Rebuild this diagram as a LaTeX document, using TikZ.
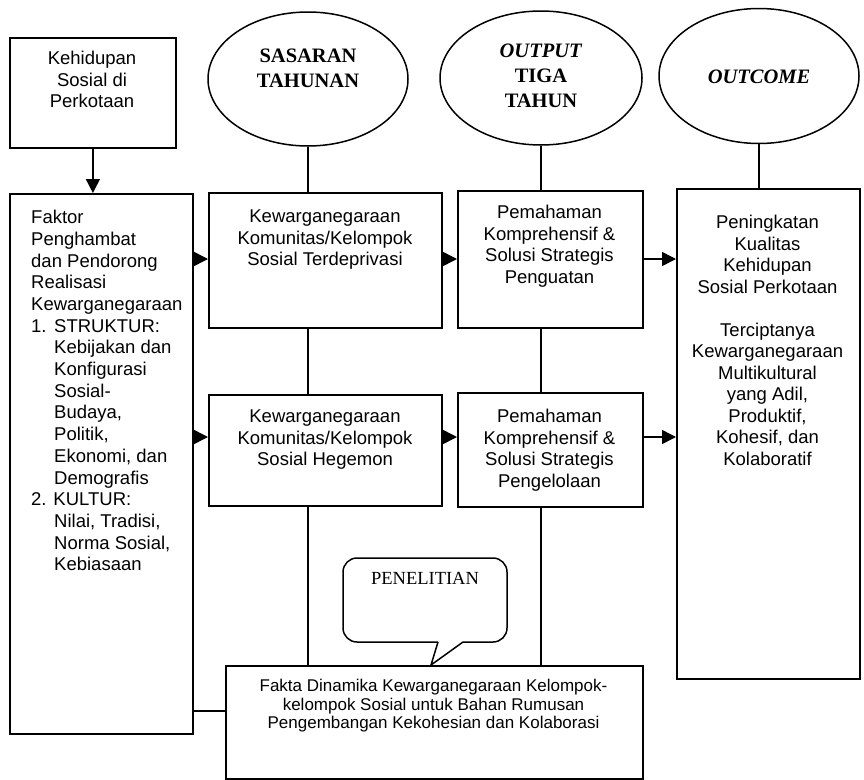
\documentclass[tikz,border=0pt]{standalone}
\usepackage{fontspec}
\setmainfont{Liberation Sans}
\newfontfamily\serifface{Liberation Serif}
\usetikzlibrary{shapes.geometric,arrows.meta}
\begin{document}
\begin{tikzpicture}[x=1pt,y=-1pt,
  box/.style={draw, line width=1.8pt, inner sep=0pt, anchor=north west},
  txt/.style={inner sep=0pt, anchor=north, align=center, font=\fontsize{18.5}{21.5}\selectfont},
  oval/.style={draw, ellipse, line width=1.5pt, inner sep=0pt},
  otxt/.style={inner sep=0pt, align=center, font=\serifface\bfseries\fontsize{20.5}{25}\selectfont},
  conn/.style={line width=1.5pt},
  arr/.style={line width=1.5pt, -{Triangle[length=14pt,width=14pt]}}]

\useasboundingbox (0,0) rectangle (864,779);
\fill[white] (0,0) rectangle (864,779);

% left column
\node[box, minimum width=166pt, minimum height=110pt] (K) at (9,37) {};
\node[txt] (Kt) at (92,51) {Kehidupan\\Sosial di\\Perkotaan};
\node[box, minimum width=183pt, minimum height=540pt] (L) at (9,193) {};
\node[txt, anchor=north west, align=left, font=\fontsize{18.5}{21.7}\selectfont] (Lt) at (31,210) {Faktor\\Penghambat\\dan Pendorong\\Realisasi\\Kewarganegaraan\\\makebox[23pt][l]{1.}STRUKTUR:\\\hspace*{23pt}Kebijakan dan\\\hspace*{23pt}Konfigurasi\\\hspace*{23pt}Sosial-\\\hspace*{23pt}Budaya,\\\hspace*{23pt}Politik,\\\hspace*{23pt}Ekonomi, dan\\\hspace*{23pt}Demografis\\2. KULTUR:\\\hspace*{23pt}Nilai, Tradisi,\\\hspace*{23pt}Norma Sosial,\\\hspace*{23pt}Kebiasaan};

% ellipses
\node[oval, minimum width=200pt, minimum height=134pt] (E1) at (308,79) {};
\node[otxt] (E1t) at (308,68.5) {SASARAN\\TAHUNAN};
\node[oval, minimum width=202pt, minimum height=134pt] (E2) at (541,78) {};
\node[otxt] (E2t) at (541,76) {\textit{OUTPUT}\\TIGA\\TAHUN};
\node[oval, minimum width=200pt, minimum height=135pt] (E3) at (759,76) {};
\node[otxt] (E3t) at (759,77) {\textit{OUTCOME}};

% middle boxes
\node[box, minimum width=233pt, minimum height=135pt] (A1) at (208,192) {};
\node[txt] (A1t) at (325,210) {Kewarganegaraan\\Komunitas/Kelompok\\Sosial Terdeprivasi};
\node[box, minimum width=185pt, minimum height=137pt] (B1) at (457,190) {};
\node[txt] (B1t) at (549.5,205) {Pemahaman\\Komprehensif \&\\Solusi Strategis\\Penguatan};
\node[box, minimum width=233pt, minimum height=111pt] (A2) at (208,394) {};
\node[txt] (A2t) at (325,410) {Kewarganegaraan\\Komunitas/Kelompok\\Sosial Hegemon};
\node[box, minimum width=185pt, minimum height=114pt] (B2) at (457,392) {};
\node[txt] (B2t) at (549.5,409) {Pemahaman\\Komprehensif \&\\Solusi Strategis\\Pengelolaan};

% right box
\node[box, minimum width=183pt, minimum height=490pt] (R) at (676,188) {};
\node[txt] (Rt) at (767.5,215) {Peningkatan\\Kualitas\\Kehidupan\\Sosial Perkotaan\\[21.5pt]Terciptanya\\Kewarganegaraan\\Multikultural\\yang Adil,\\Produktif,\\Kohesif, dan\\Kolaboratif};

% bottom box
\node[box, minimum width=417pt, minimum height=113pt] (F) at (225,665) {};
\node[txt, font=\fontsize{17}{18.5}\selectfont] (Ft) at (433.5,679) {Fakta Dinamika Kewarganegaraan Kelompok-\\kelompok Sosial untuk Bahan Rumusan\\Pengembangan Kekohesian dan Kolaborasi};

% callout
\draw[line width=1.5pt, rounded corners=14pt] (438,642) -- (343,642) -- (343,558) -- (507,558) -- (507,642) -- (463,642);
\draw[line width=1.5pt] (438,642) -- (431,665) -- (463,642);
\node[inner sep=0pt, font=\serifface\fontsize{18.5}{20}\selectfont] (pen) at (425,578) {PENELITIAN};

% row coordinates
\coordinate (r1) at (0,259);
\coordinate (r2) at (0,437);
\coordinate (r3) at (0,711);

% connectors
\draw[arr] (K.south) -- (K.south |- L.north);
\draw[arr] (L.east |- r1) -- (A1.west |- r1);
\draw[arr] (A1.east |- r1) -- (B1.west |- r1);
\draw[arr] (B1.east |- r1) -- (R.west |- r1);
\draw[arr] (L.east |- r2) -- (A2.west |- r2);
\draw[arr] (A2.east |- r2) -- (B2.west |- r2);
\draw[arr] (B2.east |- r2) -- (R.west |- r2);
\draw[conn] (L.east |- r3) -- (F.west |- r3);
\draw[conn] (E1.south) -- (E1.south |- A1.north);
\draw[conn] (A1.south -| E1.south) -- (A2.north -| E1.south);
\draw[conn] (A2.south -| E1.south) -- (F.north -| E1.south);
\draw[conn] (E2.south) -- (E2.south |- B1.north);
\draw[conn] (B1.south -| E2.south) -- (B2.north -| E2.south);
\draw[conn] (B2.south -| E2.south) -- (F.north -| E2.south);
\draw[conn] (E3.south) -- (E3.south |- R.north);
\end{tikzpicture}
\end{document}
